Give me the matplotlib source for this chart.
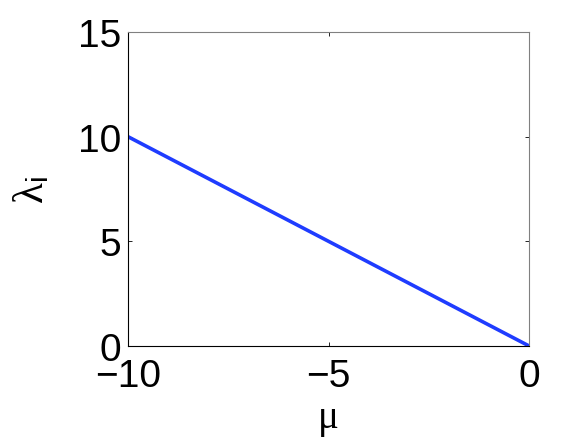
import matplotlib
matplotlib.use("Agg")
import matplotlib.pyplot as plt

mu = [-10, 0]
lam = [10, 0]
xticks = [-10, -5, 0]
yticks = [0, 5, 10, 15]

plt.rcParams['font.family'] = ['Liberation Sans', 'DejaVu Sans']
plt.rcParams['mathtext.fontset'] = 'custom'
plt.rcParams['mathtext.rm'] = 'Liberation Serif'
plt.rcParams['mathtext.it'] = 'Liberation Serif:italic'
plt.rcParams['mathtext.sf'] = 'Liberation Sans'
plt.rcParams['mathtext.default'] = 'rm'

fig = plt.figure(figsize=(5.84, 4.39), dpi=100)
ax = fig.add_axes([0.219, 0.2096, 0.687, 0.7154])
ax.plot(mu, lam, color='#1f3cff', lw=2.6, solid_capstyle='butt')
ax.set_xlim(-10, 0)
ax.set_ylim(0, 15)
ax.set_xticks(xticks)
ax.set_yticks(yticks)
ax.set_xticklabels(['\u221210', '\u22125', '0'])
ax.tick_params(direction='in', length=3, width=0.6, labelsize=28,
               top=True, right=True, pad=5)
ax.tick_params(axis='x', pad=9)
for s in ['left', 'bottom']:
    ax.spines[s].set_color('black')
    ax.spines[s].set_linewidth(0.8)
for s in ['top', 'right']:
    ax.spines[s].set_color('#808080')
    ax.spines[s].set_linewidth(0.8)
ax.set_xlabel('\u03bc', fontsize=28, labelpad=3, family='Liberation Serif')
ax.set_ylabel('$\\lambda_{\\mathsf{i}}$', fontsize=31, labelpad=18)
fig.savefig('out.png', dpi=100)
